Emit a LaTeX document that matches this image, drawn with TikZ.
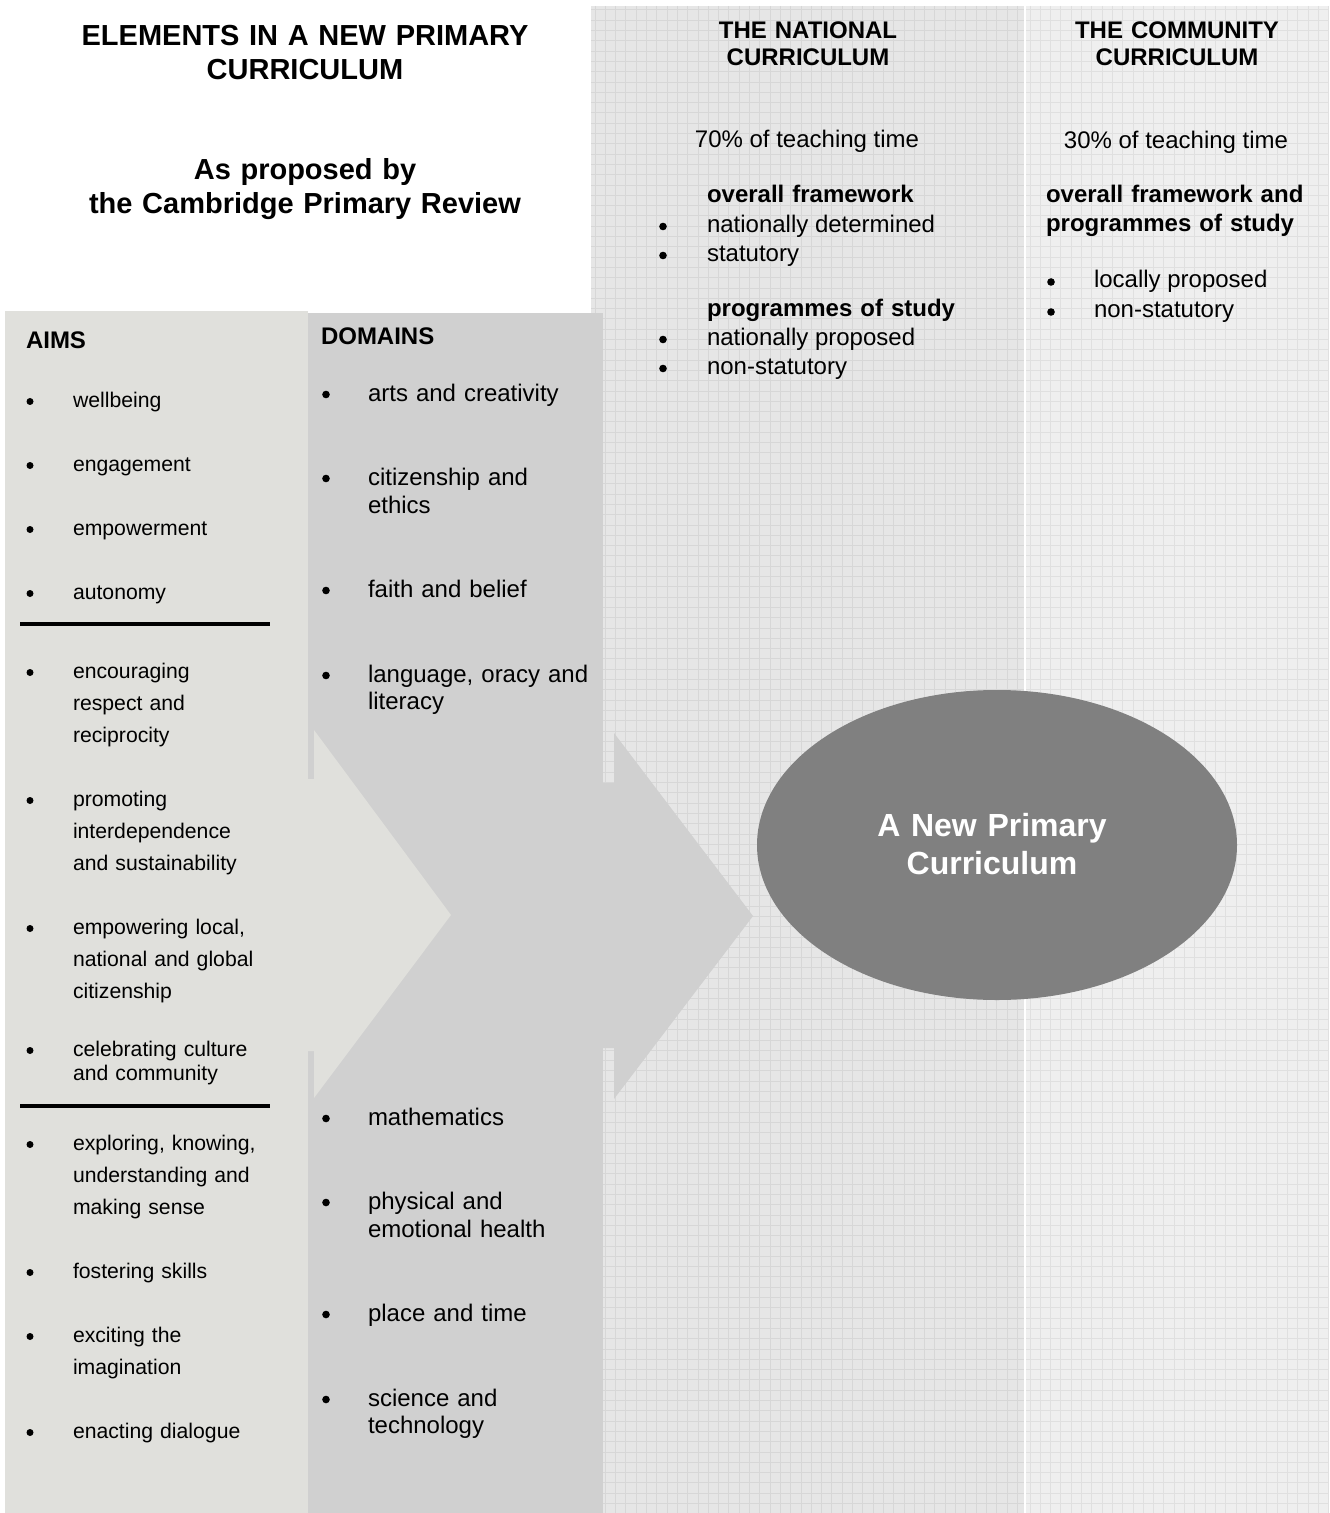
\documentclass[tikz,border=0pt]{standalone}
\usepackage{fontspec}
\setmainfont{Liberation Sans}
\usetikzlibrary{shapes.geometric}
\definecolor{aimcol}{RGB}{224,224,220}
\definecolor{domcol}{RGB}{208,208,208}
\definecolor{natbg}{RGB}{230,230,230}
\definecolor{natgrid}{RGB}{215,215,215}
\definecolor{combg}{RGB}{239,239,239}
\definecolor{comgrid}{RGB}{224,224,224}
\definecolor{ellcol}{RGB}{128,128,128}
\begin{document}
\begin{tikzpicture}[x=0.5pt,y=-0.5pt,
  every node/.style={inner sep=0pt, outer sep=0pt},
  title/.style={font=\fontsize{14.5}{17}\selectfont\bfseries, text width=250pt, align=center, anchor=base},
  head/.style={font=\fontsize{12}{13.5}\selectfont\bfseries, text width=180pt, align=center, anchor=base},
  nattxt/.style={font=\fontsize{12}{14.5}\selectfont, anchor=base west},
  natbold/.style={font=\fontsize{12}{14.5}\selectfont\bfseries, anchor=base west, text width=150pt, align=left},
  aimtxt/.style={font=\fontsize{10.6}{16}\selectfont, anchor=base west, text width=110pt, align=left},
  domtxt/.style={font=\fontsize{12}{14}\selectfont, anchor=base west, text width=125pt, align=left},
  bul/.style={circle, fill=black, minimum size=3.8pt, inner sep=0pt},
  sbul/.style={circle, fill=black, minimum size=3.5pt, inner sep=0pt},
  colhead/.style={font=\fontsize{12}{14}\selectfont\bfseries, anchor=base west},
  rule/.style={line width=2.25pt, black},
  gridln/.style={line width=0.5pt}
]
\useasboundingbox (0,0) rectangle (1329,1513);
\fill[white] (0,0) rectangle (1329,1513);

% national column background with grid
\fill[natbg] (591,6) rectangle (1024,1513);
\foreach \i in {0,...,41} \draw[gridln, natgrid] (595+\i*10.3,6) -- (595+\i*10.3,1513);
\foreach \j in {0,...,146} \draw[gridln, natgrid] (591,10+\j*10.3) -- (1024,10+\j*10.3);

% community column background with grid
\fill[combg] (1026,6) rectangle (1328,1513);
\foreach \i in {0,...,29} \draw[gridln, comgrid] (1030+\i*10.3,6) -- (1030+\i*10.3,1513);
\foreach \j in {0,...,146} \draw[gridln, comgrid] (1026,10+\j*10.3) -- (1328,10+\j*10.3);

% aims and domains panels
\fill[aimcol] (5,311) rectangle (308,1513);
\fill[domcol] (308,313) rectangle (603,1513);

% chevron arrows
\fill[aimcol] (300,779) -- (314,779) -- (314,730) -- (451,915) -- (314,1098) -- (314,1051) -- (300,1051) -- cycle;
\fill[domcol] (595,783) -- (614,783) -- (614,733) -- (753,916) -- (614,1099) -- (614,1048) -- (595,1048) -- cycle;

% ellipse
\node[ellipse, fill=ellcol, minimum width=240pt, minimum height=155pt, draw=none] (ell) at (997,845) {};
\node[font=\fontsize{16}{19}\selectfont\bfseries, text=white, text width=150pt, align=center, anchor=base] (elltxt) at (992,836) {A New Primary\\Curriculum};

% separator rules
\draw[rule] (20,624) -- (270,624);
\draw[rule] (20,1106) -- (270,1106);

% title
\node[title] (t1) at (305,46) {ELEMENTS IN A NEW PRIMARY\\CURRICULUM};
\node[title] (t2) at (305,180) {As proposed by\\the Cambridge Primary Review};

% national column
\node[head] (nh) at (808,38.6) {THE NATIONAL\\CURRICULUM};
\node[font=\fontsize{12}{14}\selectfont, anchor=base] (n70) at (807,148) {70\% of teaching time};
\node[natbold] (nof) at (707,202.7) {overall framework};
\node[bul] (nb1) at (663,226.5) {};
\node[nattxt] (n1) at (707,233) {nationally determined};
\node[bul] (nb2) at (663,255.5) {};
\node[nattxt] (n2) at (707,262) {statutory};
\node[natbold] (nps) at (707,317) {programmes of study};
\node[bul] (nb3) at (663,339.5) {};
\node[nattxt] (n3) at (707,346) {nationally proposed};
\node[bul] (nb4) at (663,368.5) {};
\node[nattxt] (n4) at (707,375) {non-statutory};

% community column
\node[head] (ch) at (1177,38.6) {THE COMMUNITY\\CURRICULUM};
\node[font=\fontsize{12}{14}\selectfont, anchor=base] (c30) at (1176,149) {30\% of teaching time};
\node[natbold] (cof) at (1046,203) {overall framework and\\programmes of study};
\node[bul] (cb1) at (1051,282) {};
\node[nattxt] (c1) at (1094,288) {locally proposed};
\node[bul] (cb2) at (1051,312) {};
\node[nattxt] (c2) at (1094,318) {non-statutory};

% aims
\node[colhead] (aimsh) at (26,348.6) {AIMS};
\node[sbul] (ab1) at (30,401.5) {};  \node[aimtxt] (a1) at (73,407.5) {wellbeing};
\node[sbul] (ab2) at (30,465.5) {};  \node[aimtxt] (a2) at (73,471.5) {engagement};
\node[sbul] (ab3) at (30,529.5) {};  \node[aimtxt] (a3) at (73,535.5) {empowerment};
\node[sbul] (ab4) at (30,593.5) {};  \node[aimtxt] (a4) at (73,599.5) {autonomy};
\node[sbul] (ab5) at (30,672.5) {};  \node[aimtxt] (a5) at (73,678.5) {encouraging\\respect and\\reciprocity};
\node[sbul] (ab6) at (30,800.5) {};  \node[aimtxt] (a6) at (73,806.5) {promoting\\interdependence\\and sustainability};
\node[sbul] (ab7) at (30,928.5) {};  \node[aimtxt] (a7) at (73,934.5) {empowering local,\\national and global\\citizenship};
\node[sbul] (ab8) at (30,1050.5) {}; \node[aimtxt, font=\fontsize{10.6}{12}\selectfont] (a8) at (73,1056.5) {celebrating culture\\and community};
\node[sbul] (ab9) at (30,1144.5) {}; \node[aimtxt] (a9) at (73,1150.5) {exploring, knowing,\\understanding and\\making sense};
\node[sbul] (ab10) at (30,1272.5) {}; \node[aimtxt] (a10) at (73,1278.5) {fostering skills};
\node[sbul] (ab11) at (30,1336.5) {}; \node[aimtxt] (a11) at (73,1342.5) {exciting the\\imagination};
\node[sbul] (ab12) at (30,1432.5) {}; \node[aimtxt] (a12) at (73,1438.5) {enacting dialogue};

% domains
\node[colhead] (domh) at (321,344.6) {DOMAINS};
\node[bul] (db1) at (326,394.5) {}; \node[domtxt] (d1) at (368,401) {arts and creativity};
\node[bul] (db2) at (326,478.5) {}; \node[domtxt] (d2) at (368,485) {citizenship and\\ethics};
\node[bul] (db3) at (326,590.5) {}; \node[domtxt] (d3) at (368,597) {faith and belief};
\node[bul] (db4) at (326,675.5) {}; \node[domtxt, font=\fontsize{12}{13.5}\selectfont] (d4) at (368,682) {language, oracy and\\literacy};
\node[bul] (db5) at (326,1118.5) {}; \node[domtxt] (d5) at (368,1125) {mathematics};
\node[bul] (db6) at (326,1202.5) {}; \node[domtxt] (d6) at (368,1209) {physical and\\emotional health};
\node[bul] (db7) at (326,1314.5) {}; \node[domtxt] (d7) at (368,1321) {place and time};
\node[bul] (db8) at (326,1399.5) {}; \node[domtxt, font=\fontsize{12}{13.5}\selectfont] (d8) at (368,1406) {science and\\technology};
\end{tikzpicture}
\end{document}
